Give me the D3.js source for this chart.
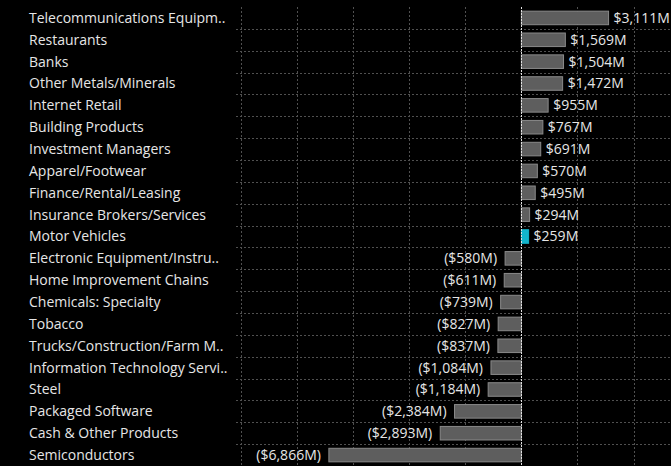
<!DOCTYPE html>
<html>
<head>
<meta charset="utf-8">
<script src="https://cdn.jsdelivr.net/npm/d3@7"></script>
<style>
  body { margin: 0; background: #000; }
  svg { display: block; }
</style>
</head>
<body>
<svg width="671" height="466"></svg>
<script>
const categories = [
  "Telecommunications Equipm..", "Restaurants", "Banks", "Other Metals/Minerals",
  "Internet Retail", "Building Products", "Investment Managers", "Apparel/Footwear",
  "Finance/Rental/Leasing", "Insurance Brokers/Services", "Motor Vehicles",
  "Electronic Equipment/Instru..", "Home Improvement Chains", "Chemicals: Specialty",
  "Tobacco", "Trucks/Construction/Farm M..", "Information Technology Servi..",
  "Steel", "Packaged Software", "Cash & Other Products", "Semiconductors"
]
const values = [
  3111, 1569, 1504, 1472, 955, 767, 691, 570, 495, 294, 259,
  -580, -611, -739, -827, -837, -1084, -1184, -2384, -2893, -6866
]
const highlighted = ["Motor Vehicles"]
const gridTicks = [-10000, -8000, -6000, -4000, -2000, 0, 2000, 4000]

const data = categories.map((c, i) => ({ name: c, value: values[i] }))

const svg = d3.select("svg")
const width = +svg.attr("width"), height = +svg.attr("height")
const font = "'Open Sans', sans-serif"

const x = d3.scaleLinear().domain([-10000, 4000]).range([241, 633.5])
const y = d3.scaleBand().domain(categories).range([7, 466])
const barH = y.bandwidth() * 0.62

const fmt = d3.format(",")
function label(v) {
  return v < 0 ? "($" + fmt(-v) + "M)" : "$" + fmt(v) + "M"
}

const grid = svg.append("g").attr("class", "grid")

// horizontal separators between rows
grid.selectAll(".hline")
  .data(categories.slice(1))
  .enter().append("line")
  .attr("class", "hline")
  .attr("x1", 236).attr("x2", width)
  .attr("y1", d => Math.round(y(d)) + 0.5).attr("y2", d => Math.round(y(d)) + 0.5)
  .attr("stroke", "#505050")
  .attr("stroke-dasharray", "2,2")

grid.selectAll(".vline")
  .data(gridTicks.filter(d => d !== 0))
  .enter().append("line")
  .attr("class", "vline")
  .attr("x1", d => Math.round(x(d)) + 0.5).attr("x2", d => Math.round(x(d)) + 0.5)
  .attr("y1", 7).attr("y2", height)
  .attr("stroke", "#505050")
  .attr("stroke-dasharray", "2,2")

// category labels
svg.selectAll(".cat")
  .data(data)
  .enter().append("text")
  .attr("class", "cat")
  .attr("x", 29)
  .attr("y", d => y(d.name) + y.bandwidth() / 2)
  .attr("dy", "0.35em")
  .attr("fill", "#e6e6e6")
  .style("font-family", font)
  .style("font-size", "14px")
  .text(d => d.name)

// bars
svg.selectAll(".bar")
  .data(data)
  .enter().append("rect")
  .attr("class", "bar")
  .attr("x", d => x(Math.min(0, d.value)))
  .attr("y", d => y(d.name) + (y.bandwidth() - barH) / 2)
  .attr("width", d => Math.abs(x(d.value) - x(0)))
  .attr("height", barH)
  .attr("fill", d => highlighted.includes(d.name) ? "#13b5cc" : "#5e5e5e")
  .attr("stroke", d => highlighted.includes(d.name) ? "#13b5cc" : "#8a8a8a")
  .attr("stroke-width", 1)

// zero line
svg.append("line")
  .attr("x1", Math.round(x(0)) + 0.5).attr("x2", Math.round(x(0)) + 0.5)
  .attr("y1", 7).attr("y2", height)
  .attr("stroke", "#e0e0e0")
  .attr("stroke-dasharray", "2,1")

// value labels
svg.selectAll(".val")
  .data(data)
  .enter().append("text")
  .attr("class", "val")
  .attr("x", d => d.value < 0 ? x(d.value) - 8 : x(d.value) + 5)
  .attr("y", d => y(d.name) + y.bandwidth() / 2)
  .attr("dy", "0.35em")
  .attr("text-anchor", d => d.value < 0 ? "end" : "start")
  .attr("fill", "#e6e6e6")
  .style("font-family", font)
  .style("font-size", "14px")
  .text(d => label(d.value))
</script>
</body>
</html>
